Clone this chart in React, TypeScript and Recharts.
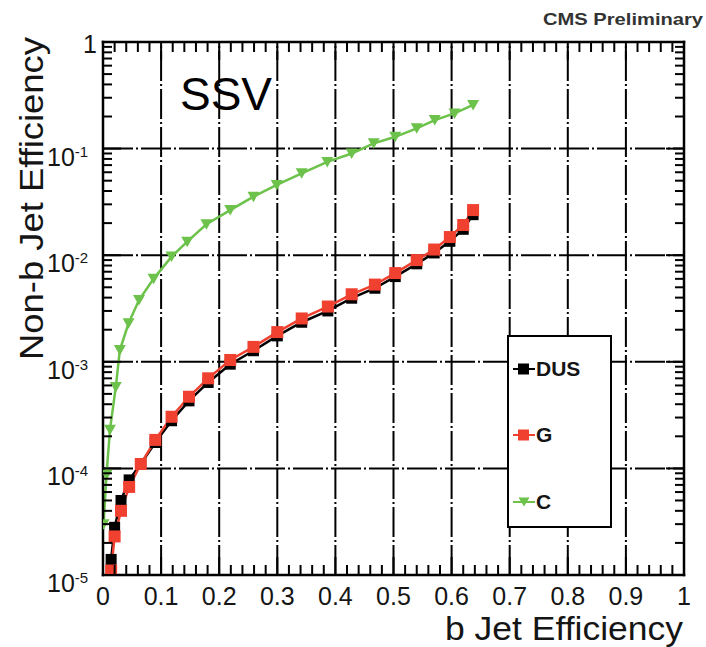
import React from 'react';
import { LineChart, Line, XAxis, YAxis, ReferenceLine, Legend } from 'recharts';

// ---- data ----
const bEffLight = [0.014, 0.020, 0.031, 0.045, 0.065, 0.090, 0.118, 0.148, 0.181, 0.219, 0.259, 0.300, 0.342, 0.387, 0.428, 0.468, 0.503, 0.540, 0.570, 0.597, 0.620, 0.637];
const dusEff = [1.4e-5, 2.8e-5, 5.0e-5, 7.8e-5, 1.1e-4, 1.75e-4, 2.8e-4, 4.3e-4, 6.4e-4, 9.5e-4, 1.27e-3, 1.75e-3, 2.35e-3, 3.0e-3, 3.95e-3, 4.9e-3, 6.3e-3, 8.3e-3, 1.05e-2, 1.35e-2, 1.75e-2, 2.4e-2];
const gEff = [1.1e-5, 2.3e-5, 4.0e-5, 6.7e-5, 1.1e-4, 1.85e-4, 3.05e-4, 4.7e-4, 7.0e-4, 1.04e-3, 1.38e-3, 1.9e-3, 2.55e-3, 3.3e-3, 4.3e-3, 5.3e-3, 6.8e-3, 9.0e-3, 1.13e-2, 1.48e-2, 1.92e-2, 2.65e-2];
const bEffC = [0.001, 0.006, 0.012, 0.022, 0.029, 0.044, 0.062, 0.087, 0.118, 0.145, 0.178, 0.219, 0.259, 0.299, 0.342, 0.386, 0.428, 0.466, 0.503, 0.540, 0.571, 0.605, 0.637];
const cEff = [3.0e-5, 8.7e-5, 2.3e-4, 5.8e-4, 1.29e-3, 2.3e-3, 3.8e-3, 6.0e-3, 9.7e-3, 1.34e-2, 1.95e-2, 2.65e-2, 3.54e-2, 4.56e-2, 5.87e-2, 7.5e-2, 9.0e-2, 0.112, 0.129, 0.155, 0.185, 0.214, 0.257];

const xMajorTicks = [0, 0.1, 0.2, 0.3, 0.4, 0.5, 0.6, 0.7, 0.8, 0.9, 1];
const xTickLabels = ['0', '0.1', '0.2', '0.3', '0.4', '0.5', '0.6', '0.7', '0.8', '0.9', '1'];
const yDecadeTicks = [1e-5, 1e-4, 1e-3, 1e-2, 1e-1, 1];
const yDecadeExponents = [-5, -4, -3, -2, -1, 0];

const seriesNames = ['DUS', 'G', 'C'];
const seriesColors = ['#000000', '#f04030', '#6cc24a'];

const lightData = bEffLight.map((b, i) => ({ b, dus: dusEff[i], g: gEff[i] }));
const cData = bEffC.map((b, i) => ({ b, c: cEff[i] }));

const xMinorTicks = Array.from({ length: 51 }, (_, i) => Number((i * 0.02).toFixed(2)));
const yMinorTicks: number[] = [];
for (let e = -5; e <= -1; e++) {
  for (let m = 1; m <= 9; m++) yMinorTicks.push(Number((m * Math.pow(10, e)).toPrecision(3)));
}
yMinorTicks.push(1);

const FONT = '"Liberation Sans", Arial, Helvetica, sans-serif';
const INK = '#151515';

const xMajorIndex = (v: number) => xMajorTicks.findIndex((t) => Math.abs(t - v) < 1e-6);
const yMajorIndex = (v: number) => yDecadeTicks.findIndex((t) => Math.abs(Math.log10(t) - Math.log10(v)) < 1e-6);

const BottomTick = (props: any) => {
  const { x, y, payload } = props;
  const idx = xMajorIndex(payload.value);
  const major = idx >= 0;
  return (
    <g>
      <line x1={x} x2={x} y1={y} y2={y - (major ? 18 : 10)} stroke="#000" strokeWidth={2} />
      {major && (
        <text x={x} y={y + 30} textAnchor="middle" fontFamily={FONT} fontSize={25} fill={INK}>
          {xTickLabels[idx]}
        </text>
      )}
    </g>
  );
};

const TopTick = (props: any) => {
  const { x, y, payload } = props;
  const major = xMajorIndex(payload.value) >= 0;
  return <line x1={x} x2={x} y1={y} y2={y + (major ? 18 : 10)} stroke="#000" strokeWidth={2} />;
};

const LeftTick = (props: any) => {
  const { x, y, payload } = props;
  const idx = yMajorIndex(payload.value);
  const major = idx >= 0;
  const exp = major ? yDecadeExponents[idx] : 0;
  return (
    <g>
      <line x1={x} x2={x + (major ? 18 : 9)} y1={y} y2={y} stroke="#000" strokeWidth={2} />
      {major && exp === 0 && (
        <text x={x - 6} y={y + 11} textAnchor="end" fontFamily={FONT} fontSize={25} fill={INK}>
          1
        </text>
      )}
      {major && exp !== 0 && (
        <text x={x - 56} y={y + 17} textAnchor="start" fontFamily={FONT} fontSize={25} fill={INK}>
          10
          <tspan dy={-9} fontSize={15}>{String(exp)}</tspan>
        </text>
      )}
    </g>
  );
};

const RightTick = (props: any) => {
  const { x, y, payload } = props;
  const major = yMajorIndex(payload.value) >= 0;
  return <line x1={x} x2={x - (major ? 18 : 9)} y1={y} y2={y} stroke="#000" strokeWidth={2} />;
};

const squareDot = (fill: string, size: number) => (p: any) => {
  if (p.cx == null || p.cy == null) return <g key={`e${p.index}`} />;
  return (
    <rect key={`s${fill}${p.index}`} x={p.cx - size / 2} y={p.cy - size / 2} width={size} height={size} fill={fill} />
  );
};

const triangleDot = (fill: string) => (p: any) => {
  if (p.cx == null || p.cy == null) return <g key={`e${p.index}`} />;
  const { cx, cy } = p;
  return (
    <polygon key={`t${p.index}`} points={`${cx - 6},${cy - 5} ${cx + 6},${cy - 5} ${cx},${cy + 5.5}`} fill={fill} />
  );
};

const LegendMarker = ({ i }: { i: number }) => (
  <svg width={22} height={14} style={{ display: 'block' }}>
    <line x1={0} x2={22} y1={7} y2={7} stroke={seriesColors[i]} strokeWidth={2} />
    {i < 2 ? (
      <rect x={5} y={1.5} width={11} height={11} fill={seriesColors[i]} />
    ) : (
      <polygon points="5.5,2.5 16.5,2.5 11,11.5" fill={seriesColors[i]} />
    )}
  </svg>
);

const LegendBox = () => {
  const rows = [32, 98, 165];
  return (
    <div
      style={{
        position: 'relative',
        width: 105,
        height: 193,
        boxSizing: 'border-box',
        border: '2px solid #000',
        background: '#fff',
      }}
    >
      {seriesNames.map((n, i) => (
        <div
          key={n}
          style={{
            position: 'absolute',
            left: 4,
            top: rows[i] - 12,
            height: 24,
            display: 'flex',
            alignItems: 'center',
            fontFamily: FONT,
            fontWeight: 'bold',
            fontSize: 21,
            color: INK,
          }}
        >
          <LegendMarker i={i} />
          <span style={{ marginLeft: 1 }}>{n}</span>
        </div>
      ))}
    </div>
  );
};

export default function App() {
  return (
    <div style={{ position: 'absolute', left: 0, top: 0, width: 706, height: 647, background: '#fff' }}>
      <LineChart width={706} height={647} margin={{ top: 0, right: 0, bottom: 0, left: 0 }}>
        <XAxis
          dataKey="b"
          type="number"
          domain={[0, 1]}
          allowDataOverflow
          ticks={xMinorTicks}
          interval={0}
          tickSize={0}
          tickMargin={0}
          height={72}
          axisLine={{ stroke: '#000', strokeWidth: 2.5, strokeLinecap: 'square' }}
          tick={<BottomTick />}
        />
        <XAxis
          xAxisId="top"
          orientation="top"
          dataKey="b"
          type="number"
          domain={[0, 1]}
          allowDataOverflow
          ticks={xMinorTicks}
          interval={0}
          tickSize={0}
          tickMargin={0}
          height={42}
          axisLine={{ stroke: '#000', strokeWidth: 2.5, strokeLinecap: 'square' }}
          tick={<TopTick />}
        />
        <YAxis
          type="number"
          scale="log"
          domain={[1e-5, 1]}
          allowDataOverflow
          ticks={yMinorTicks}
          interval={0}
          tickSize={0}
          tickMargin={0}
          width={103}
          axisLine={{ stroke: '#000', strokeWidth: 2.5, strokeLinecap: 'square' }}
          tick={<LeftTick />}
        />
        <YAxis
          yAxisId="right"
          orientation="right"
          type="number"
          scale="log"
          domain={[1e-5, 1]}
          allowDataOverflow
          ticks={yMinorTicks}
          interval={0}
          tickSize={0}
          tickMargin={0}
          width={22}
          axisLine={{ stroke: '#000', strokeWidth: 2.5, strokeLinecap: 'square' }}
          tick={<RightTick />}
        />
        {xMajorTicks.slice(1, -1).map((v) => (
          <ReferenceLine key={`gx${v}`} x={v} stroke="#000" strokeWidth={2} strokeDasharray="30 3 2 3" />
        ))}
        {yDecadeTicks.slice(1, -1).map((v) => (
          <ReferenceLine key={`gy${v}`} y={v} stroke="#000" strokeWidth={2} strokeDasharray="30 3 2 3" />
        ))}
        <Line
          data={lightData}
          dataKey="dus"
          name={seriesNames[0]}
          stroke={seriesColors[0]}
          strokeWidth={2.5}
          dot={squareDot(seriesColors[0], 11)}
          activeDot={false}
          isAnimationActive={false}
        />
        <Line
          data={lightData}
          dataKey="g"
          name={seriesNames[1]}
          stroke={seriesColors[1]}
          strokeWidth={2.5}
          dot={squareDot(seriesColors[1], 12)}
          activeDot={false}
          isAnimationActive={false}
        />
        <Line
          data={cData}
          dataKey="c"
          name={seriesNames[2]}
          stroke={seriesColors[2]}
          strokeWidth={2.5}
          dot={triangleDot(seriesColors[2])}
          activeDot={false}
          isAnimationActive={false}
        />
        <Legend
          layout="vertical"
          align="center"
          verticalAlign="middle"
          content={() => <LegendBox />}
          wrapperStyle={{ position: 'absolute', left: 507, top: 335, width: 105, height: 193 }}
        />
      </LineChart>
      <svg
        width={706}
        height={647}
        style={{ position: 'absolute', left: 0, top: 0, pointerEvents: 'none' }}
      >
        <text x={703} y={25} textAnchor="end" fontFamily={FONT} fontWeight="bold" fontSize={17} fill="#333" textLength={160} lengthAdjust="spacingAndGlyphs">
          CMS Preliminary
        </text>
        <text x={180} y={110} fontFamily={FONT} fontSize={46} fill="#000">
          SSV
        </text>
        <text x={445} y={640} fontFamily={FONT} fontSize={34} fill={INK} textLength={238} lengthAdjust="spacingAndGlyphs">
          b Jet Efficiency
        </text>
        <text
          transform="translate(43,360) rotate(-90)"
          x={0}
          y={0}
          fontFamily={FONT}
          fontSize={34}
          fill={INK}
          textLength={323}
          lengthAdjust="spacingAndGlyphs"
        >
          Non-b Jet Efficiency
        </text>
      </svg>
    </div>
  );
}
